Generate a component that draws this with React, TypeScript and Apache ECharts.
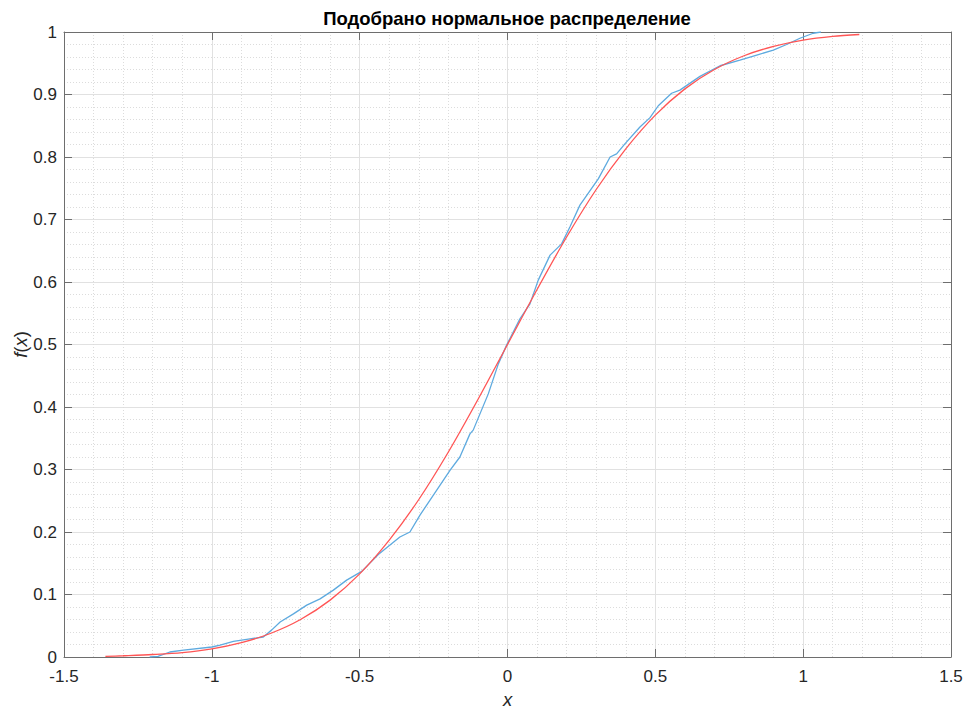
import React, { useEffect, useRef } from "react";
import * as echarts from "echarts";

// Empirical CDF (blue)
const blueX = [-1.21, -1.182, -1.142, -1.096, -1.0, -0.972, -0.927, -0.871, -0.826, -0.798, -0.769, -0.724, -0.679, -0.634, -0.589, -0.544, -0.493, -0.437, -0.364, -0.33, -0.296, -0.228, -0.194, -0.161, -0.127, -0.116, -0.065, -0.031, -0.003, 0.042, 0.076, 0.104, 0.144, 0.183, 0.211, 0.245, 0.307, 0.347, 0.369, 0.397, 0.448, 0.482, 0.51, 0.555, 0.583, 0.651, 0.719, 0.786, 0.843, 0.899, 0.944, 0.989, 1.034, 1.06];
const blueY = [0.0, 0.001, 0.008, 0.011, 0.016, 0.019, 0.025, 0.029, 0.032, 0.043, 0.056, 0.069, 0.083, 0.093, 0.107, 0.123, 0.137, 0.164, 0.192, 0.2, 0.227, 0.275, 0.299, 0.32, 0.357, 0.363, 0.421, 0.469, 0.499, 0.541, 0.565, 0.603, 0.643, 0.661, 0.688, 0.723, 0.765, 0.8, 0.805, 0.821, 0.848, 0.863, 0.882, 0.902, 0.907, 0.929, 0.946, 0.955, 0.963, 0.971, 0.98, 0.99, 0.998, 1.0];

// Fitted normal CDF (red)
const redX = [-1.36, -1.3, -1.2, -1.1, -1.0, -0.9, -0.8, -0.7, -0.6, -0.5, -0.4, -0.3, -0.2, -0.1, 0.0, 0.1, 0.2, 0.3, 0.4, 0.5, 0.6, 0.7, 0.8, 0.9, 1.0, 1.1, 1.19];
const redY = [0.001, 0.002, 0.004, 0.007, 0.013, 0.023, 0.038, 0.06, 0.091, 0.133, 0.187, 0.252, 0.328, 0.412, 0.5, 0.588, 0.672, 0.748, 0.813, 0.867, 0.909, 0.94, 0.962, 0.977, 0.987, 0.993, 0.996];

const titleText = "Подобрано нормальное распределение";

export default function App() {
  const ref = useRef<HTMLDivElement>(null);
  useEffect(() => {
    if (!ref.current) return;
    const chart = echarts.init(ref.current, undefined, { renderer: "svg" });
    const font = "'Liberation Sans', Arial, Helvetica, sans-serif";
    const axisColor = "#6e6e6e";
    const labelColor = "#262626";
    const tickFont = 17;
    const nameFont = 18.5;
    const common = {
      type: "value" as const,
      axisLine: { show: true, onZero: false, lineStyle: { color: axisColor, width: 1 } },
      axisTick: { show: true, inside: true, length: 8, lineStyle: { color: axisColor, width: 1 } },
      minorTick: { show: false },
    };
    chart.setOption({
      animation: false,
      backgroundColor: "#ffffff",
      title: {
        text: titleText,
        left: 507,
        textAlign: "center",
        top: 9,
        padding: 0,
        textStyle: { fontFamily: font, fontSize: nameFont, fontWeight: "bold", color: "#000000" },
      },
      grid: { left: 64, right: 17, top: 32, bottom: 53, containLabel: false, outerBoundsMode: "none" },
      xAxis: [
        {
          ...common,
          min: -1.5,
          max: 1.5,
          interval: 0.5,
          position: "bottom",
          axisLabel: { color: labelColor, fontFamily: font, fontSize: tickFont, margin: 11 },
          splitLine: { show: true, lineStyle: { color: "#e1e1e1", width: 1 } },
          minorTick: { show: false, splitNumber: 5 },
          minorSplitLine: { show: true, lineStyle: { color: "#dcdcdc", width: 1, type: [1, 2] } },
          name: "x",
          nameLocation: "middle",
          nameGap: 33,
          nameMoveOverlap: false,
          nameTextStyle: { color: labelColor, fontFamily: font, fontSize: nameFont, fontStyle: "italic" },
        },
        {
          ...common,
          min: -1.5,
          max: 1.5,
          interval: 0.5,
          position: "top",
          axisLabel: { show: false },
          splitLine: { show: false },
        },
      ],
      yAxis: [
        {
          ...common,
          min: 0,
          max: 1,
          interval: 0.1,
          position: "left",
          axisLabel: { color: labelColor, fontFamily: font, fontSize: tickFont, margin: 7 },
          splitLine: { show: true, lineStyle: { color: "#e1e1e1", width: 1 } },
          minorTick: { show: false, splitNumber: 5 },
          minorSplitLine: { show: true, lineStyle: { color: "#dcdcdc", width: 1, type: [1, 2] } },
          name: "{i|f}{n|(}{i|x}{n|)}",
          nameLocation: "middle",
          nameGap: 34,
          nameMoveOverlap: false,
          nameRotate: 90,
          nameTextStyle: {
            color: labelColor,
            fontFamily: font,
            fontSize: nameFont,
            rich: {
              i: { fontStyle: "italic", fontFamily: font, fontSize: nameFont, color: labelColor },
              n: { fontFamily: font, fontSize: nameFont, color: labelColor },
            },
          },
        },
        {
          ...common,
          min: 0,
          max: 1,
          interval: 0.1,
          position: "right",
          axisLabel: { show: false },
          splitLine: { show: false },
        },
      ],
      series: [
        {
          type: "line",
          name: "empirical",
          data: blueX.map((x, i) => [x, blueY[i]]),
          showSymbol: false,
          symbol: "none",
          lineStyle: { color: "#5eaadf", width: 1.3 },
          itemStyle: { color: "#5eaadf" },
          clip: true,
          z: 3,
        },
        {
          type: "line",
          name: "normal",
          data: redX.map((x, i) => [x, redY[i]]),
          smooth: 0.3,
          showSymbol: false,
          symbol: "none",
          lineStyle: { color: "#ff5555", width: 1.3 },
          itemStyle: { color: "#ff5555" },
          clip: true,
          z: 4,
        },
      ],
    });
    return () => chart.dispose();
  }, []);
  return (
    <div
      ref={ref}
      style={{ position: "fixed", left: 0, top: 0, width: 968, height: 710, background: "#fff" }}
    />
  );
}
